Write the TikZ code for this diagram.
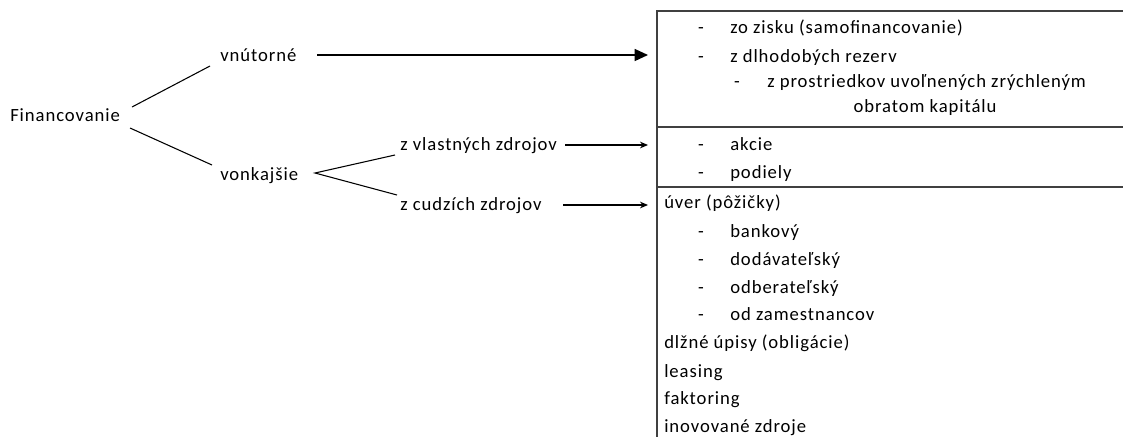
\documentclass[tikz,border=0pt]{standalone}
\usepackage{fontspec}
\setmainfont[LetterSpace=5]{Carlito}
\usetikzlibrary{arrows.meta}
\begin{document}
\begin{tikzpicture}[x=0.75pt,y=-0.75pt,
  lbl/.style={anchor=base west,inner sep=0pt,font=\fontsize{14}{16}\selectfont},
  ctr/.style={anchor=base,inner sep=0pt,font=\fontsize{14}{16}\selectfont},
  tree/.style={draw=black,line width=0.8pt},
  bigarrow/.style={draw=black,line width=1pt,-{Triangle[length=10pt,width=9pt]}},
  smallarrow/.style={draw=black,line width=0.8pt,-{Stealth[length=6pt,width=5pt]}},
  frame/.style={draw=black!75,line width=1.2pt}]
\useasboundingbox (0,0) rectangle (1123,436);

% left tree
\node[lbl] (fin) at (10,121) {Financovanie};
\node[lbl] (vnu) at (220,61) {vnútorné};
\node[lbl] (von) at (220,180) {vonkajšie};
\node[lbl] (vla) at (400,150) {z vlastných zdrojov};
\node[lbl] (cud) at (400,210) {z cudzích zdrojov};

\coordinate (f1) at (132,107);
\coordinate (v1) at (210,66);
\coordinate (f2) at (130,128);
\coordinate (v2) at (212,165);
\draw[tree] (f1) -- (v1);
\draw[tree] (f2) -- (v2);

\coordinate (apex) at (315,173);
\coordinate (u1) at (395,155);
\coordinate (u2) at (397,195);
\draw[tree] (u1) -- (apex) -- (u2);

% sections on the right
\coordinate (tl) at (657,11);
\coordinate (tr) at (1130,11);
\coordinate (d1l) at (657,127);
\coordinate (d1r) at (1130,127);
\coordinate (d2l) at (657,187);
\coordinate (d2r) at (1130,187);
\coordinate (bl) at (657,440);
\draw[frame] (tr) -- (tl) -- (bl);
\draw[frame] (d1l) -- (d1r);
\draw[frame] (d2l) -- (d2r);

% arrows into the sections
\coordinate (t1) at (648,55);
\coordinate (t2) at (648,145);
\coordinate (t3) at (648,205);
\draw[bigarrow] (317,55) -- (t1);
\draw[smallarrow] (565,145) -- (t2);
\draw[smallarrow] (563,205) -- (t3);

% internal sources
\node[ctr] (d11) at (701,33) {-};
\node[lbl] (i11) at (730,33) {zo zisku (samofinancovanie)};
\node[ctr] (d12) at (701,62) {-};
\node[lbl] (i12) at (730,62) {z dlhodobých rezerv};
\node[ctr] (d13) at (737,87) {-};
\node[lbl] (i13) at (767,87) {z prostriedkov uvoľnených zrýchleným};
\node[ctr] (i14) at (925,112) {obratom kapitálu};

% own sources
\node[ctr] (d21) at (701,150) {-};
\node[lbl] (i21) at (730,150) {akcie};
\node[ctr] (d22) at (701,178) {-};
\node[lbl] (i22) at (730,178) {podiely};

% foreign sources
\node[lbl] (i31) at (664,208) {úver (pôžičky)};
\node[ctr] (d32) at (701,237) {-};
\node[lbl] (i32) at (730,237) {bankový};
\node[ctr] (d33) at (701,265) {-};
\node[lbl] (i33) at (730,265) {dodávateľský};
\node[ctr] (d34) at (701,293) {-};
\node[lbl] (i34) at (730,293) {odberateľský};
\node[ctr] (d35) at (701,320) {-};
\node[lbl] (i35) at (730,320) {od zamestnancov};
\node[lbl] (i36) at (664,348) {dlžné úpisy (obligácie)};
\node[lbl] (i37) at (664,377) {leasing};
\node[lbl] (i38) at (664,404) {faktoring};
\node[lbl] (i39) at (664,432) {inovované zdroje};
\end{tikzpicture}
\end{document}
